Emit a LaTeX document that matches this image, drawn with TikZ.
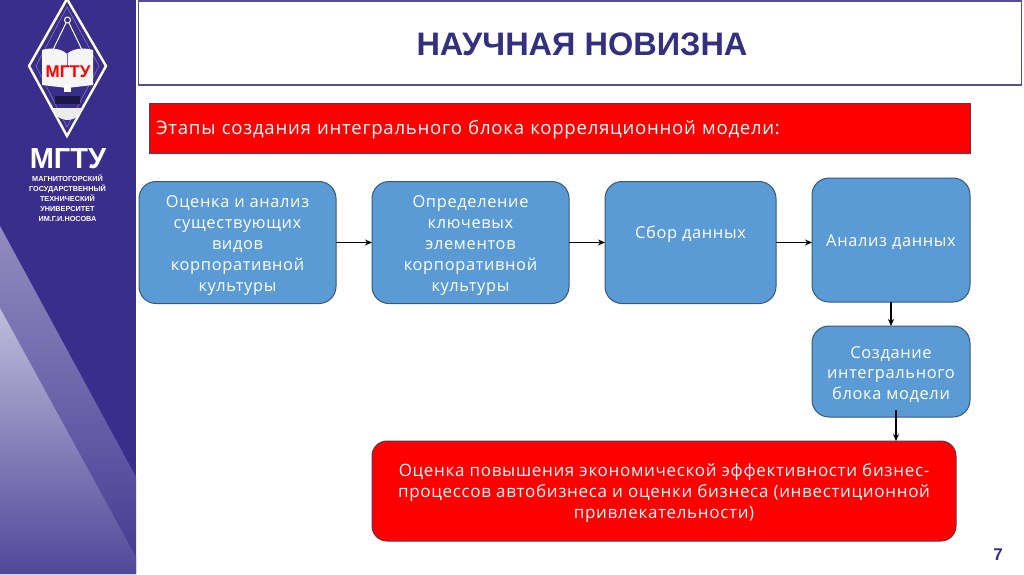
\documentclass[tikz,border=0pt]{standalone}
\usepackage{fontspec}
\setmainfont[LetterSpace=4]{Open Sans}
\newfontfamily\titlefont{Liberation Sans}
\usetikzlibrary{arrows.meta}
\definecolor{navy}{HTML}{3A2E8C}
\definecolor{stepblue}{HTML}{5B9BD5}
\definecolor{stepedge}{HTML}{35597A}
\definecolor{redfill}{HTML}{FF0000}
\definecolor{rededge}{HTML}{5A3A50}
\definecolor{titleblue}{HTML}{33307F}
\newcommand{\toppad}[1]{\mbox{}\\[-#1]}
\tikzset{
  stepbox/.style={draw=stepedge,fill=stepblue,line width=1pt,rounded corners=17pt,align=center,
    text=white,font=\fontsize{16.4}{20.8}\selectfont,outer sep=0pt,inner sep=0pt},
  redbox/.style={draw=rededge,fill=redfill,line width=1pt,text=white,outer sep=0pt,inner sep=0pt,
    font=\fontsize{17}{20.8}\selectfont,align=center},
  logoline/.style={draw=white,line width=1pt},
  logotext/.style={text=white,inner sep=0pt,font=\titlefont\bfseries\fontsize{7.3}{10}\selectfont,align=center},
  arrowline/.style={->,line width=1.1pt}
}
\begin{document}
\begin{tikzpicture}[x=1pt,y=-1pt,>={Stealth[length=7pt,width=6pt]}]
                \useasboundingbox (0,0) rectangle (1024,574);
                \fill[white] (0,0) rectangle (1024,574);

                % sidebar
                \fill[navy] (0,0) rectangle (136,574);
                \shade[top color=navy!55!white,bottom color=navy!95!white] (0,226)--(136,477)--(136,574)--(0,574)--cycle;
                \shade[top color=navy!32!white,bottom color=navy!88!white] (0,308)--(136,557)--(136,574)--(0,574)--cycle;

                % logo
                \draw[draw=white!90!yellow,line width=2.4pt] (67,-1)--(106,66)--(67,136)--(29,66)--cycle;
                \draw[navy!60!white,line width=.5pt] (67,7)--(99,66)--(67,127)--(36,66)--cycle;
                \draw[logoline] (67.5,20) circle (3);
                \draw[logoline] (66,23)--(48,60);
                \draw[logoline] (69,23)--(87,60);
                \fill[white!92!gray] (42,50) .. controls (52,47) and (62,49) .. (67,54) .. controls (72,49) and (82,47) .. (93,50)--(93,85)--(67,88)--(42,85)--cycle;
                \draw[navy!70!white,line width=.4pt] (67,54)--(67,66);
                \fill[white!85!gray] (52,104) arc (180:0:15.5 and 16)--(83,108)--(52,108)--cycle;
                \fill[navy!50!black] (55,96) rectangle (80,104);
                \fill[white] (64,85) rectangle (71,92);
                \node[inner sep=0pt,text=redfill,font=\titlefont\bfseries\fontsize{17}{18}\selectfont] (logored) at (68,72) {МГТУ};
                \node[logotext,font=\titlefont\bfseries\fontsize{29}{30}\selectfont] (logoname) at (68,158.5) {МГТУ};
                \node[logotext] (logouni) at (67.5,198) {МАГНИТОГОРСКИЙ\\ГОСУДАРСТВЕННЫЙ\\ТЕХНИЧЕСКИЙ\\УНИВЕРСИТЕТ\\ИМ.Г.И.НОСОВА};

                % header
                \node[draw=titleblue!85!white,fill=white,line width=1.4pt,minimum width=883pt,minimum height=84pt,outer sep=0pt,inner sep=0pt] (header) at (580,43) {};
                \node[text=titleblue,font=\titlefont\bfseries\fontsize{32.5}{36}\selectfont,inner sep=0pt] (title) at (582,44) {НАУЧНАЯ НОВИЗНА};
                \node[redbox,font=\fontsize{18.6}{22}\selectfont,minimum width=821pt,minimum height=50pt,text width=807pt,align=left,inner sep=0pt] (stages) at (559.5,128) {\rule{0pt}{18pt}Этапы создания интегрального блока корреляционной модели:};

                \node[stepbox,minimum width=197pt,minimum height=122pt] (b1) at (237.5,242.5) {\toppad{2.8pt}Оценка и анализ\\существующих\\видов\\корпоративной\\культуры};
                \node[stepbox,minimum width=197pt,minimum height=122pt] (b2) at (470.5,242.5) {\toppad{2.8pt}Определение\\ключевых\\элементов\\корпоративной\\культуры};
                \node[stepbox,minimum width=171pt,minimum height=122pt] (b3) at (690.5,242.5) {\raisebox{4.5pt}[0pt][0pt]{Сбор данных}};
                \node[stepbox,minimum width=158pt,minimum height=124pt] (b4) at (891,240) {\raisebox{-6pt}[0pt][0pt]{Анализ данных}};
                \node[stepbox,minimum width=158pt,minimum height=91pt] (b5) at (891,371.5) {\toppad{2.8pt}Создание\\интегрального\\блока модели};
                \node[redbox,rounded corners=15pt,minimum width=584pt,minimum height=100pt] (res) at (664,491) {\toppad{4.1pt}Оценка повышения экономической эффективности бизнес-\\процессов автобизнеса и оценки бизнеса (инвестиционной\\привлекательности)};
                \coordinate (s5) at (896,410);

                \draw[arrowline] (b1)--(b2);
                \draw[arrowline] (b2)--(b3);
                \draw[arrowline] (b3.east)--(b4.west|-b3.east);
                \draw[arrowline] (b4)--(b5);
                \draw[arrowline] (s5)--(s5|-res.north);

                \node[text=titleblue,font=\titlefont\bfseries\fontsize{17}{18}\selectfont,inner sep=0pt] (pagenum) at (998,555) {7};
\end{tikzpicture}
\end{document}
